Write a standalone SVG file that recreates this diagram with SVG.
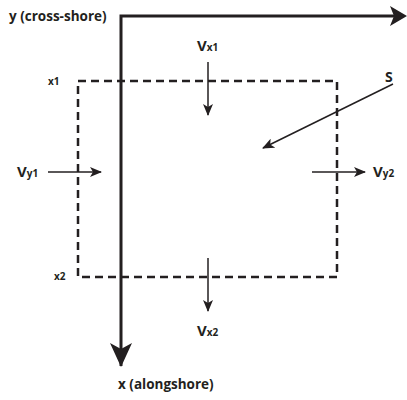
<svg xmlns="http://www.w3.org/2000/svg" width="407" height="400" viewBox="0 0 407 400">
<style>
.lbl{font-family:"Open Sans","Liberation Sans",sans-serif;font-weight:700;fill:#231f20}
.ax{stroke:#231f20;stroke-width:3;fill:none}
.ar{stroke:#231f20;stroke-width:1.5;fill:none}
.box{stroke:#231f20;stroke-width:2.5;fill:none;stroke-dasharray:8 5}
.sub{font-size:10px}
</style>
<defs>
<marker id="sm" viewBox="0 0 12 10" refX="11" refY="5" markerWidth="12" markerHeight="10" markerUnits="userSpaceOnUse" orient="auto">
<path d="M0,0 L12,5 L0,10 L3,5 Z" fill="#231f20"/>
</marker>
</defs>
<g id="axes">
<path class="ax" d="M121,366 V16 H395"/>
<path d="M407,16 L390,6 L394,16 L390,26 Z" fill="#231f20"/>
<path d="M121,367 L110,343 L121,349 L132,343 Z" fill="#231f20"/>
</g>
<g id="box"><rect class="box" x="78" y="81" width="259" height="196"/></g>
<g id="connectors">
<line class="ar" x1="208" y1="62" x2="208" y2="115" marker-end="url(#sm)"/>
<line class="ar" x1="208" y1="258" x2="208" y2="311" marker-end="url(#sm)"/>
<line class="ar" x1="48" y1="172" x2="101" y2="172" marker-end="url(#sm)"/>
<line class="ar" x1="312" y1="172" x2="365" y2="172" marker-end="url(#sm)"/>
<line class="ar" x1="393" y1="84" x2="263" y2="148" marker-end="url(#sm)"/>
</g>
<g id="labels">
<text class="lbl" x="9" y="21" font-size="13.5">y (cross-shore)</text>
<text class="lbl" x="118" y="389" font-size="13.5">x (alongshore)</text>
<text class="lbl" x="48" y="85" font-size="10">x1</text>
<text class="lbl" x="54" y="280" font-size="10">x2</text>
<text class="lbl" x="385" y="82" font-size="14">S</text>
<text class="lbl" x="197" y="51" font-size="15">V<tspan class="sub">x1</tspan></text>
<text class="lbl" x="197" y="336" font-size="15">V<tspan class="sub">x2</tspan></text>
<text class="lbl" x="17" y="177" font-size="15">V<tspan class="sub">y1</tspan></text>
<text class="lbl" x="373" y="177" font-size="15">V<tspan class="sub">y2</tspan></text>
</g>
</svg>
